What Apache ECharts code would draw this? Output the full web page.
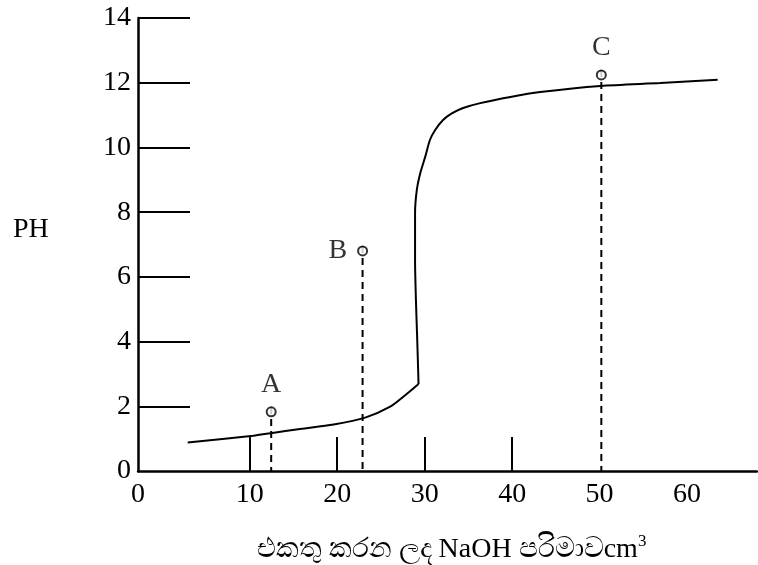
<!DOCTYPE html>
<html>
<head>
<meta charset="utf-8">
<script src="https://cdn.jsdelivr.net/npm/echarts@6/dist/echarts.min.js"></script>
<style>
  html, body { margin: 0; padding: 0; background: #fff; }
  #chart { width: 758px; height: 565px; }
</style>
</head>
<body>
<div id="chart"></div>
<script>
// titration curve, values
const curveLowX = [2.9, 10.4, 12.4, 15.75, 19.6, 23.2, 26.0, 27.8, 29.3];
const curveLowY = [0.88, 1.09, 1.17, 1.30, 1.44, 1.65, 1.98, 2.35, 2.69];
const curveHighX = [29.3, 29.15, 29.0, 28.9, 28.9, 29.1, 29.5, 30.05, 30.6, 31.2, 32.1, 33.15, 34.4, 36.35, 39.8, 43.2, 50.1, 56.95, 63.5];
const curveHighY = [2.69, 4.05, 5.28, 6.52, 7.97, 8.68, 9.21, 9.70, 10.23, 10.54, 10.85, 11.06, 11.22, 11.37, 11.56, 11.71, 11.90, 11.99, 12.09];

const markerNames = ['A', 'B', 'C'];
const markerX = [12.45, 22.9, 50.2];
const markerY = [1.83, 6.80, 12.24];
const markerLabelPos = ['top', 'left', 'top'];

const xTicks = [10, 20, 30, 40];
const xLabels = [-2.78, 10, 20, 30, 40, 50, 60];
const yTicks = [2, 4, 6, 8, 10, 12, 14];
const yLabels = [0, 2, 4, 6, 8, 10, 12, 14];

const FONT = "'Liberation Serif', 'Times New Roman', serif";
const chart = echarts.init(document.getElementById('chart'));

const dashSeries = markerNames.map((n, i) => ({
  type: 'line',
  silent: true,
  showSymbol: false,
  data: [[markerX[i], markerY[i] + 0.15], [markerX[i], 0]],
  lineStyle: { color: '#000', width: 2, type: [7, 5] },
}));

chart.setOption({
  animation: false,
  title: {
    text: 'PH',
    left: 8,
    top: 211,
    textStyle: { fontFamily: FONT, fontSize: 28, fontWeight: 'normal', color: '#000' },
  },
  grid: { left: 138, right: 1, top: 18, bottom: 94, outerBoundsMode: 'none' },
  xAxis: {
    type: 'value',
    min: -2.78,
    max: 68,
    name: '{a|එකතු කරන ලද NaOH පරිමාවcm}{s|3}',
    nameLocation: 'middle',
    nameGap: 62,
    nameTextStyle: {
      padding: [0, 0, 0, 8],
      rich: {
        a: { fontFamily: FONT, fontSize: 28, color: '#000' },
        s: { fontFamily: FONT, fontSize: 17, color: '#000', verticalAlign: 'top', padding: [0, 0, 16, 0] },
      },
    },
    axisLine: { onZero: false, lineStyle: { color: '#000', width: 2.5 } },
    axisTick: {
      customValues: xTicks,
      inside: true,
      length: 34,
      lineStyle: { color: '#000', width: 2 },
    },
    axisLabel: {
      customValues: xLabels,
      formatter: (v) => (v < 0 ? '0' : String(v)),
      margin: 10,
      color: '#000',
      fontFamily: FONT,
      fontSize: 28,
    },
    splitLine: { show: false },
  },
  yAxis: {
    type: 'value',
    min: 0,
    max: 14,
    axisLine: { onZero: false, lineStyle: { color: '#000', width: 2.5 } },
    axisTick: {
      customValues: yTicks,
      inside: true,
      length: 52,
      lineStyle: { color: '#000', width: 2 },
    },
    axisLabel: {
      customValues: yLabels,
      margin: 7,
      color: '#000',
      fontFamily: FONT,
      fontSize: 28,
    },
    splitLine: { show: false },
  },
  series: [
    {
      type: 'line',
      smooth: 0.3,
      showSymbol: false,
      data: curveLowX.map((x, i) => [x, curveLowY[i]]),
      lineStyle: { color: '#000', width: 2 },
    },
    {
      type: 'line',
      smooth: 0.25,
      showSymbol: false,
      data: curveHighX.map((x, i) => [x, curveHighY[i]]),
      lineStyle: { color: '#000', width: 2 },
    },
    ...dashSeries,
    {
      type: 'scatter',
      symbol: 'emptyCircle',
      symbolSize: 9,
      itemStyle: { color: '#000', borderColor: '#000', borderWidth: 1.5 },
      z: 5,
      data: markerNames.map((n, i) => ({
        value: [markerX[i], markerY[i]],
        name: n,
        label: {
          show: true,
          formatter: n,
          position: markerLabelPos[i],
          distance: markerLabelPos[i] === 'left' ? 10 : 8,
          color: '#000',
          fontFamily: FONT,
          fontSize: 28,
        },
      })),
    },
  ],
});
</script>
</body>
</html>
